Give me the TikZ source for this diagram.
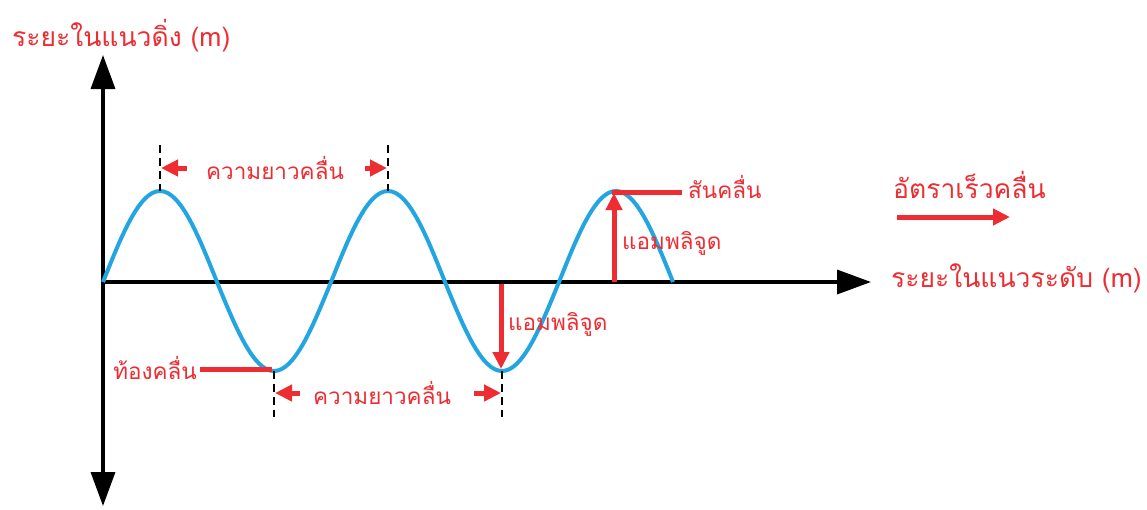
\documentclass[tikz,border=0pt]{standalone}
\usepackage{fontspec}
\newfontfamily\thaifont[Script=Thai]{Loma}
\usetikzlibrary{arrows.meta,positioning}
\definecolor{labelred}{RGB}{237,45,50}
\definecolor{waveblue}{RGB}{35,165,225}

\begin{document}
\begin{tikzpicture}[
  x=1pt, y=-1pt,
  every node/.style={font=\thaifont\fontsize{22.5}{26}\selectfont, text=labelred, inner sep=0pt},
  big/.style={font=\thaifont\fontsize{26.5}{30}\selectfont},
  axis/.style={line width=3.5pt, {Triangle[length=34pt,width=24pt]}-{Triangle[length=34pt,width=24pt]}},
  wave/.style={draw=waveblue, line width=4pt},
  guide/.style={black, line width=2.2pt, dash pattern=on 8pt off 5pt},
  redarrow/.style={draw=labelred, line width=5pt, -{Triangle[length=17pt,width=16pt]}},
  redline/.style={draw=labelred, line width=5pt}
]
  \useasboundingbox (0,0) rectangle (1147,509);

  % axes
  \coordinate (origin) at (103,282);
  \coordinate (ytop) at (103,55);
  \coordinate (ybot) at (103,506);
  \coordinate (xend) at (871,282);
  \draw[axis] (ybot) -- (ytop);
  \draw[line width=3.5pt, -{Triangle[length=34pt,width=24pt]}] (origin) -- (xend);

  % crests and troughs
  \coordinate (crestA) at (160,191);
  \coordinate (troughA) at (274,371);
  \coordinate (crestB) at (388,191);
  \coordinate (troughB) at (502,371);
  \coordinate (crestC) at (616,191);

  \draw[wave] (origin) sin (crestA) cos (217,282) sin (troughA) cos (331,282)
    sin (crestB) cos (445,282) sin (troughB) cos (559,282) sin (crestC) cos (673,282);

  % wavelength markers
  \draw[guide] (160,145) -- (crestA);
  \draw[guide] (388,145) -- (crestB);
  \draw[guide] (troughA) -- (274,417);
  \draw[guide] (troughB) -- (502,417);

  \node (lenTop) at (275,168) {ความยาวคลื่น};
  \draw[redarrow] (187,168) -- (161,168);
  \draw[redarrow] (365,168) -- (387,168);

  \node (lenBot) at (382,393) {ความยาวคลื่น};
  \draw[redarrow] (300,393) -- (275,393);
  \draw[redarrow] (474,393) -- (501,393);

  % amplitude
  \draw[redarrow] (614,282) -- (614,193);
  \draw[redline] (612,192) -- (682,192) coordinate (crestEnd);
  \node[anchor=west] (crestLbl) at (688,187) {สันคลื่น};
  \node[anchor=west] (ampUp) at (622,243) {แอมพลิจูด};

  \draw[redarrow] (501,284) -- (501,369);
  \node[anchor=west] (ampDown) at (508,324) {แอมพลิจูด};

  \draw[redline] (200,369) -- (272,369);
  \node[anchor=east] (troughLbl) at (197,368) {ท้องคลื่น};

  % axis labels
  \node[big, anchor=west] (yLbl) at (12,36) {ระยะในแนวดิ่ง (m)};
  \node[big, anchor=west] (xLbl) at (891,278) {ระยะในแนวระดับ (m)};

  % wave speed
  \node[big, anchor=west] (speedLbl) at (893,185) {อัตราเร็วคลื่น};
  \coordinate (speedStart) at (897,217);
  \draw[redarrow] (speedStart) -- (1010,217);
\end{tikzpicture}
\end{document}
